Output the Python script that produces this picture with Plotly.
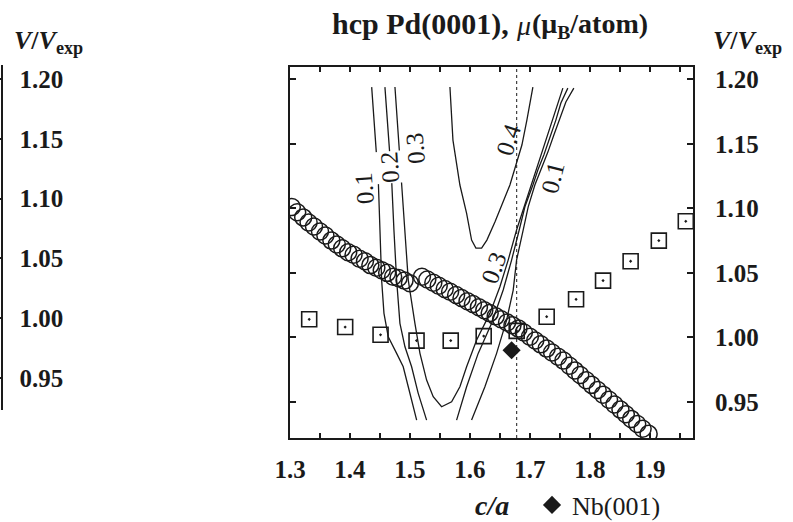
import plotly.graph_objects as go

FONT = "Liberation Serif"
INK = "#1a1a1a"

# ---------------- data ----------------
# volume ratio V/Vexp along c/a (open circles, two branches)
ca_circ_a = [1.303, 1.312, 1.322, 1.331, 1.340, 1.350, 1.359, 1.369, 1.378, 1.387, 1.397,
             1.406, 1.416, 1.425, 1.434, 1.444, 1.453, 1.462, 1.472, 1.481, 1.491, 1.500]
v_circ_a = [1.101, 1.097, 1.093, 1.089, 1.086, 1.082, 1.079, 1.075, 1.072, 1.069, 1.066,
            1.064, 1.061, 1.059, 1.056, 1.054, 1.052, 1.050, 1.047, 1.046, 1.044, 1.042]
ca_circ_b = [1.520, 1.529, 1.539, 1.548, 1.558, 1.567, 1.577, 1.586, 1.596, 1.605, 1.615,
             1.624, 1.633, 1.643, 1.652, 1.662, 1.671, 1.681, 1.690, 1.700, 1.709, 1.718,
             1.728, 1.737, 1.747, 1.756, 1.766, 1.775, 1.784, 1.794, 1.803, 1.813, 1.822,
             1.832, 1.841, 1.851, 1.860, 1.869, 1.879, 1.888, 1.898]
v_circ_b = [1.0470, 1.0448, 1.0423, 1.0400, 1.0375, 1.0353, 1.0328, 1.0305, 1.0280, 1.0258,
            1.0233, 1.0210, 1.0188, 1.0163, 1.0140, 1.0115, 1.0093, 1.0068, 1.0038, 1.0005,
            0.9976, 0.9946, 0.9913, 0.9883, 0.9850, 0.9820, 0.9780, 0.9744, 0.9708, 0.9668,
            0.9632, 0.9592, 0.9556, 0.9516, 0.9480, 0.9440, 0.9404, 0.9368, 0.9328, 0.9292,
            0.9252]

# open squares with a dot
ca_sq = [1.332, 1.392, 1.451, 1.511, 1.568, 1.623, 1.678, 1.728, 1.777, 1.822, 1.868, 1.915, 1.960]
v_sq = [1.014, 1.008, 1.002, 0.9975, 0.9975, 1.001, 1.005, 1.016, 1.0295, 1.044, 1.059, 1.075, 1.090]

# Nb(001) point
ca_nb = [1.6695]
v_nb = [0.990]
nb_name = "Nb(001)"

# experimental c/a (dotted line)
ca_exp = 1.678

# magnetic-moment contour lines (c/a, V/Vexp)
c01_left_x = [1.4362, 1.4417, 1.4472, 1.4500, 1.4528, 1.4567, 1.4638, 1.4778, 1.4888, 1.4972, 1.5055, 1.5112]
c01_left_y = [1.1940, 1.1568, 1.1219, 1.0832, 1.0444, 1.0186, 1.0005, 0.9876, 0.9772, 0.9617, 0.9462, 0.9359]
c02_left_x = [1.4583, 1.4642, 1.4695, 1.4733, 1.4778, 1.4833, 1.4917, 1.5028, 1.5138, 1.5278]
c02_left_y = [1.1940, 1.1568, 1.1219, 1.0832, 1.0444, 1.0109, 0.9927, 0.9772, 0.9566, 0.9359]
c03_x = [1.4750, 1.4808, 1.4862, 1.4917, 1.4972, 1.5083, 1.5167, 1.5278, 1.5388, 1.5528, 1.5695,
         1.5833, 1.5945, 1.6112, 1.6333, 1.6500, 1.6638, 1.6778, 1.6888, 1.6972, 1.7050, 1.7167,
         1.7267, 1.7350, 1.7433, 1.7500, 1.7550]
c03_y = [1.1940, 1.1568, 1.1219, 1.0832, 1.0444, 1.0109, 0.9876, 0.9669, 0.9540, 0.9462, 0.9501,
         0.9617, 0.9772, 0.9979, 1.0186, 1.0392, 1.0599, 1.0832, 1.0987, 1.1116, 1.1219, 1.1374,
         1.1529, 1.1646, 1.1762, 1.1855, 1.1932]
c02_right_x = [1.5778, 1.5945, 1.6138, 1.6362, 1.6555, 1.6695, 1.6822, 1.6917, 1.7050, 1.7133,
               1.7233, 1.7333, 1.7433, 1.7517, 1.7633]
c02_right_y = [0.9359, 0.9617, 0.9876, 1.0109, 1.0367, 1.0599, 1.0832, 1.1012, 1.1181, 1.1297,
               1.1413, 1.1545, 1.1684, 1.1816, 1.1932]
c01_right_x = [1.6028, 1.6250, 1.6445, 1.6612, 1.6722, 1.6778, 1.6888, 1.6972, 1.7083, 1.7200,
               1.7300, 1.7400, 1.7500, 1.7600, 1.7733]
c01_right_y = [0.9359, 0.9617, 0.9876, 1.0134, 1.0367, 1.0599, 1.0832, 1.1012, 1.1181, 1.1313,
               1.1436, 1.1568, 1.1700, 1.1824, 1.1932]
c04_x = [1.5667, 1.5717, 1.5833, 1.5945, 1.6028, 1.6100, 1.6195, 1.6283, 1.6417, 1.6533, 1.6667,
         1.6767, 1.6867, 1.6950, 1.7017, 1.7050]
c04_y = [1.1940, 1.1529, 1.1181, 1.0961, 1.0754, 1.0692, 1.0692, 1.0754, 1.0894, 1.1026, 1.1181,
         1.1336, 1.1491, 1.1684, 1.1839, 1.1940]

# contour labels: text, c/a, V/Vexp, angle
lab_text = ["0.1", "0.2", "0.3", "0.4", "0.3", "0.1"]
lab_x = [1.4233, 1.4667, 1.5083, 1.6638, 1.6400, 1.7383]
lab_y = [1.1157, 1.1322, 1.1467, 1.1537, 1.0541, 1.1239]
lab_ang = [-94, -94, -94, -72, -70, -76]
lab_bg = [False, True, False, False, False, False]

# axes
x_tick_vals = [1.30, 1.35, 1.40, 1.45, 1.50, 1.55, 1.60, 1.65, 1.70, 1.75, 1.80, 1.85, 1.90, 1.95]
x_tick_text = ["1.3", "", "1.4", "", "1.5", "", "1.6", "", "1.7", "", "1.8", "", "1.9", ""]
y_tick_vals = [0.95, 1.00, 1.05, 1.10, 1.15, 1.20]
y_tick_text = ["0.95", "1.00", "1.05", "1.10", "1.15", "1.20"]
x_range = [1.3, 1.972]
y_range = [0.922, 1.2098]
y_left_range = [0.9232, 1.2117]

title_main = "<b>hcp Pd(0001),</b>"
title_mu = "<i>μ</i>"
title_unit = "<b>(μ<sub>B</sub>/atom)</b>"
y_title = "<b><i>V</i>/<i>V</i><sub>exp</sub></b>"
x_title = "<b><i>c/a</i></b>"

# ---------------- layout geometry (pixels) ----------------
W, H = 793, 522
ML, MR, MT, MB = 0, 100, 40, 84
PW = W - ML - MR
PH = H - MT - MB


def fx(px):
    return (px - ML) / PW


def fy(py):
    return (H - MB - py) / PH


fig = go.Figure()

line_style = dict(color=INK, width=1.3)
for cx, cy in [(c01_left_x, c01_left_y), (c02_left_x, c02_left_y), (c03_x, c03_y),
               (c02_right_x, c02_right_y), (c01_right_x, c01_right_y), (c04_x, c04_y)]:
    fig.add_trace(go.Scatter(x=cx, y=cy, mode="lines", line=line_style,
                             showlegend=False, hoverinfo="skip"))

fig.add_trace(go.Scatter(x=ca_sq, y=v_sq, mode="markers", showlegend=False,
                         marker=dict(symbol="square-open-dot", size=15, color=INK,
                                     line=dict(width=1.6, color=INK))))
fig.add_trace(go.Scatter(x=ca_circ_a + [None] + ca_circ_b, y=v_circ_a + [None] + v_circ_b,
                         mode="markers", showlegend=False,
                         marker=dict(symbol="circle-open", size=17, color=INK,
                                     line=dict(width=1.5, color=INK))))
fig.add_trace(go.Scatter(x=ca_nb, y=v_nb, mode="markers", name=nb_name, showlegend=True,
                         marker=dict(symbol="diamond", size=14, color=INK)))

# helper trace for the left (neighbouring panel) axis
fig.add_trace(go.Scatter(x=[None], y=[None], xaxis="x", yaxis="y3", showlegend=False,
                         hoverinfo="skip"))

fig.add_vline(x=ca_exp, line=dict(color=INK, width=1, dash="dot"))

for t, x, y, a, bg in zip(lab_text, lab_x, lab_y, lab_ang, lab_bg):
    fig.add_annotation(x=x, y=y, xref="x", yref="y", text=t, showarrow=False,
                       textangle=a, font=dict(family=FONT, size=25, color=INK),
                       bgcolor="white" if bg else None, borderpad=0)

tick_font = dict(family=FONT, size=25, color=INK, weight="bold")

fig.update_layout(
    width=W, height=H,
    margin=dict(l=ML, r=MR, t=MT, b=MB, autoexpand=False),
    paper_bgcolor="white", plot_bgcolor="rgba(0,0,0,0)",
    showlegend=True,
    legend=dict(x=fx(532), y=fy(505), xanchor="left", yanchor="middle",
                font=dict(family=FONT, size=26, color=INK),
                bgcolor="rgba(0,0,0,0)", itemwidth=30),
    xaxis=dict(domain=[fx(290), 1.0], range=x_range, tickmode="array", automargin=False,
               tickvals=x_tick_vals, ticktext=x_tick_text, ticks="inside", ticklen=5,
               tickwidth=1.5, tickcolor=INK, showline=True, linewidth=2, linecolor=INK,
               mirror="ticks", showgrid=False, zeroline=False, tickfont=tick_font,
               ticklabelstandoff=8),
    yaxis=dict(domain=[0, fy(66.7)], range=y_range, side="right", tickmode="array",
               automargin=False,
               tickvals=y_tick_vals, ticktext=y_tick_text, ticks="inside", ticklen=6,
               tickwidth=1.5, tickcolor=INK, showline=True, linewidth=2, linecolor=INK,
               mirror="ticks", showgrid=False, zeroline=False, tickfont=tick_font,
               ticklabelstandoff=15),
    yaxis3=dict(domain=[fy(410), fy(65)], range=y_left_range, anchor="free",
                automargin=False,
                position=fx(1.5), side="right", tickmode="array",
                tickvals=y_tick_vals, ticktext=y_tick_text, ticks="inside", ticklen=5,
                tickwidth=1.5, tickcolor=INK, showline=True, linewidth=2, linecolor=INK,
                showgrid=False, zeroline=False, tickfont=tick_font, ticklabelstandoff=12),
)

ann = dict(xref="paper", yref="paper", showarrow=False)
fig.add_annotation(x=fx(330), y=fy(24), xanchor="left", yanchor="middle", text=title_main,
                   font=dict(family=FONT, size=30, color=INK), **ann)
fig.add_annotation(x=fx(514), y=fy(26), xanchor="left", yanchor="middle", text=title_mu,
                   font=dict(family=FONT, size=28, color=INK), **ann)
fig.add_annotation(x=fx(530), y=fy(26), xanchor="left", yanchor="middle", text=title_unit,
                   font=dict(family=FONT, size=28, color=INK), **ann)
for vx in (12, 711):
    fig.add_annotation(x=fx(vx), y=fy(42), xanchor="left", yanchor="middle", text=y_title,
                       font=dict(family=FONT, size=26, color=INK), **ann)
fig.add_annotation(x=fx(492), y=fy(505), xanchor="center", yanchor="middle", text=x_title,
                   font=dict(family=FONT, size=28, color=INK), **ann)

fig.write_html("out.html")
